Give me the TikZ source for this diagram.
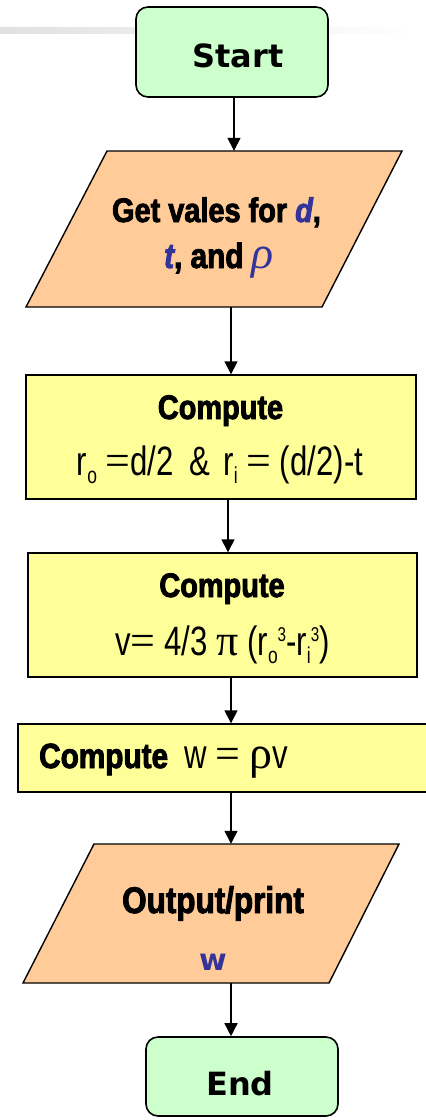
\documentclass[tikz,border=0pt]{standalone}
\usepackage{fontspec}
\usetikzlibrary{arrows.meta,calc}
\newfontfamily\condfont[FakeStretch=0.85, BoldFeatures={FakeBold=2.5}, BoldItalicFeatures={FakeBold=2.5}]{Liberation Sans}
\newfontfamily\narrowfont[FakeStretch=0.76]{Liberation Sans}
\newfontfamily\tahfont{DejaVu Sans}
\newfontfamily\greekfont{Liberation Serif}
\definecolor{termfill}{HTML}{CCFFCC}
\definecolor{iofill}{HTML}{FFCC99}
\definecolor{procfill}{HTML}{FFFF99}
\definecolor{varblue}{HTML}{333399}
\newcommand{\fs}[1]{\fontsize{#1}{#1}\selectfont}
\newcommand{\lowidx}[1]{\raisebox{-8pt}{\fs{23}#1}}
\newcommand{\highidx}[1]{\raisebox{14pt}{\fs{20}#1}}
\newcommand{\eqs}{{\greekfont\fs{44}=}}
\tikzset{
  term/.style={draw=black, line width=1.6pt, fill=termfill, rounded corners=12pt, inner sep=0pt},
  proc/.style={draw=black, line width=1.4pt, fill=procfill, inner sep=0pt},
  iobox/.style={draw=black, line width=1.4pt, fill=iofill, line join=miter},
  anchorbox/.style={inner sep=0pt},
  flow/.style={draw=black, line width=1.4pt, -{Triangle[length=13pt,width=13pt]}},
  txt/.style={inner sep=0pt, anchor=base, text=black}
}
\begin{document}
\begin{tikzpicture}[x=1pt,y=-1pt]
\useasboundingbox (0,0) rectangle (426,1120);
\fill[white] (0,0) rectangle (426,1120);
% faint header bar
\shade[left color=black!12, right color=white, draw=none] (0,27) rectangle (415,33);

% shapes
\node[term, minimum width=192pt, minimum height=90pt] (start) at (232,52) {};
\draw[iobox] (107,151) -- (402,151) -- (322,307) -- (26,307) -- cycle;
\node[anchorbox, minimum width=300pt, minimum height=156pt] (in) at (214,229) {};
\node[proc, minimum width=390pt, minimum height=124pt] (b1) at (221,437) {};
\node[proc, minimum width=389pt, minimum height=124pt] (b2) at (222.5,615) {};
\node[proc, minimum width=412pt, minimum height=68pt] (b3) at (224,758) {};
\draw[iobox] (94,844) -- (399,844) -- (329,983) -- (23,983) -- cycle;
\node[anchorbox, minimum width=300pt, minimum height=139pt] (out) at (211,913.5) {};
\node[term, minimum width=192pt, minimum height=79pt] (end) at (242,1076.5) {};

% connectors
\coordinate (a1) at ($(start.south)+(2,0)$);
\draw[flow] (a1) -- (a1 |- in.north);
\coordinate (a2) at ($(in.south)+(17,0)$);
\draw[flow] (a2) -- (a2 |- b1.north);
\coordinate (a3) at ($(b1.south)+(7,0)$);
\draw[flow] (a3) -- (a3 |- b2.north);
\coordinate (a4) at ($(b2.south)+(8.5,0)$);
\draw[flow] (a4) -- (a4 |- b3.north);
\coordinate (a5) at ($(b3.south)+(7,0)$);
\draw[flow] (a5) -- (a5 |- out.north);
\coordinate (a6) at ($(out.south)+(20,0)$);
\draw[flow] (a6) -- (a6 |- end.north);

% texts
\node[txt] (tstart) at (238,67) {\tahfont\bfseries\fs{32}Start};
\node[txt] (tin1) at (216.5,222) {\condfont\bfseries\fs{34}Get vales for \textcolor{varblue}{\itshape d},};
\node[txt] (tin2) at (219,268) {\condfont\bfseries\fs{35}\textcolor{varblue}{\itshape t}, and \textcolor{varblue}{\greekfont\mdseries\itshape\fs{46}ρ}};
\node[txt] (tb1a) at (220.5,419) {\condfont\bfseries\fs{34}Compute};
\node[txt] (tb1b) at (220,475) {\narrowfont\fs{41}r\lowidx{o} \eqs d/2\hspace{16pt}\&\hspace{13pt}r\lowidx{i} \eqs\ (d/2)-t};
\node[txt] (tb2a) at (222,597) {\condfont\bfseries\fs{34}Compute};
\node[txt] (tb2b) at (222.5,655) {\narrowfont\fs{41}v\eqs\ 4/3 {\greekfont\fs{44}π} (r\lowidx{o}\highidx{3}-r\lowidx{i}\highidx{3})};
\node[txt, anchor=base west] (tb3) at (39,768) {\condfont\bfseries\fs{35}Compute\ \ {\narrowfont\mdseries\fs{41}w \eqs\ {\greekfont\fs{46}ρ}v}};
\node[txt] (tout1) at (213,913) {\condfont\bfseries\fs{37}Output/print};
\node[txt] (tout2) at (213,970) {\tahfont\bfseries\fs{30}\textcolor{varblue}{w}};
\node[txt] (tend) at (240,1095) {\tahfont\bfseries\fs{32}End};
\end{tikzpicture}
\end{document}
